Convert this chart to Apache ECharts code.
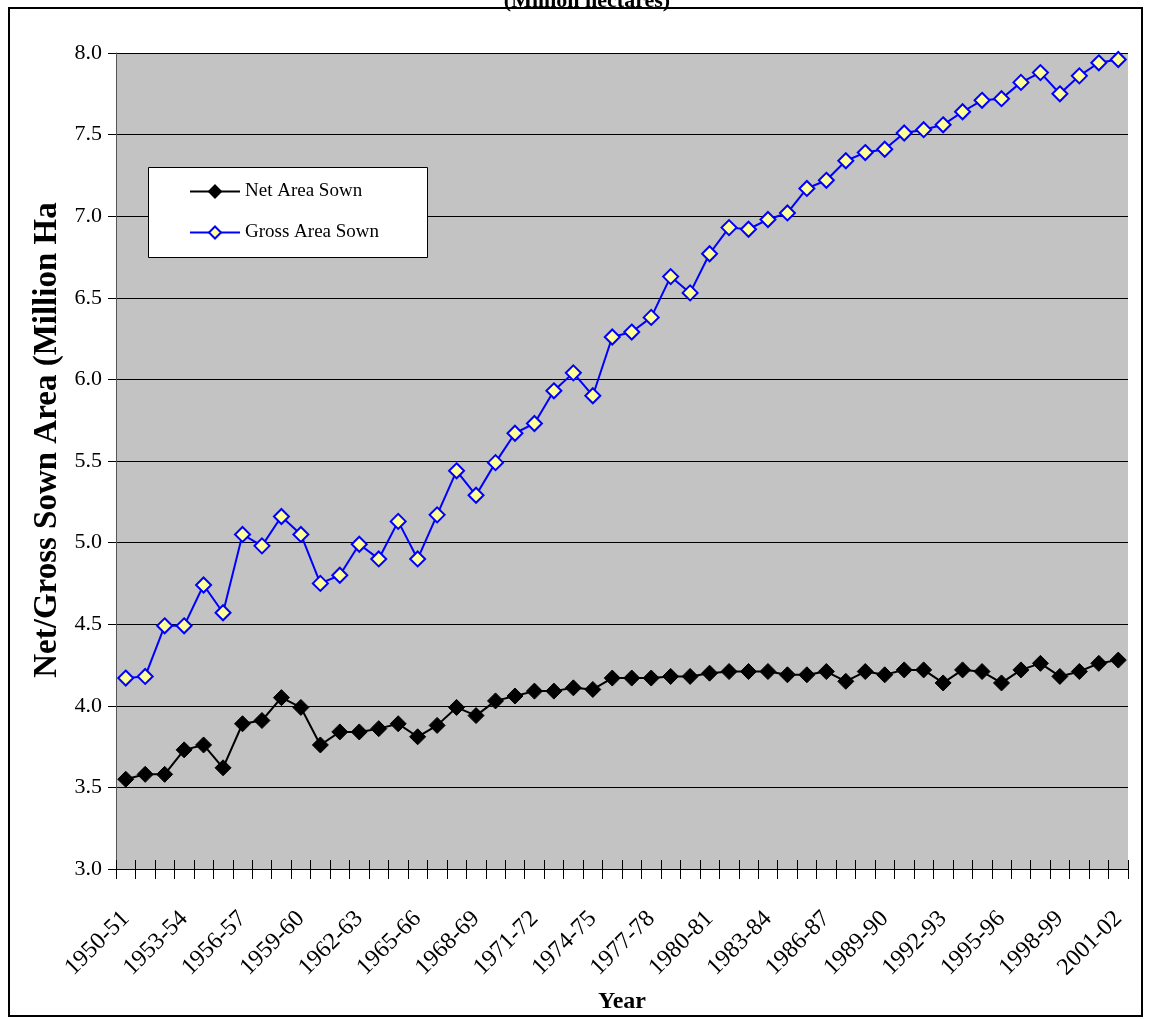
<!DOCTYPE html>
<html>
<head>
<meta charset="utf-8">
<title>Net / Gross Sown Area</title>
<script src="https://cdn.jsdelivr.net/npm/echarts@6/dist/echarts.min.js"></script>
<style>
  html, body { margin: 0; padding: 0; background: #fff; }
  #chart { width: 1150px; height: 1019px; }
</style>
</head>
<body>
<div id="chart"></div>
<script>
// years 1950-51 .. 2001-02
var years = [
  '1950-51','1951-52','1952-53','1953-54','1954-55','1955-56','1956-57','1957-58','1958-59','1959-60',
  '1960-61','1961-62','1962-63','1963-64','1964-65','1965-66','1966-67','1967-68','1968-69','1969-70',
  '1970-71','1971-72','1972-73','1973-74','1974-75','1975-76','1976-77','1977-78','1978-79','1979-80',
  '1980-81','1981-82','1982-83','1983-84','1984-85','1985-86','1986-87','1987-88','1988-89','1989-90',
  '1990-91','1991-92','1992-93','1993-94','1994-95','1995-96','1996-97','1997-98','1998-99','1999-00',
  '2000-01','2001-02'
];
var netArea = [
  3.55, 3.58, 3.58, 3.73, 3.76, 3.62, 3.89, 3.91, 4.05, 3.99,
  3.76, 3.84, 3.84, 3.86, 3.89, 3.81, 3.88, 3.99, 3.94, 4.03,
  4.06, 4.09, 4.09, 4.11, 4.10, 4.17, 4.17, 4.17, 4.18, 4.18,
  4.20, 4.21, 4.21, 4.21, 4.19, 4.19, 4.21, 4.15, 4.21, 4.19,
  4.22, 4.22, 4.14, 4.22, 4.21, 4.14, 4.22, 4.26, 4.18, 4.21,
  4.26, 4.28
];
var grossArea = [
  4.17, 4.18, 4.49, 4.49, 4.74, 4.57, 5.05, 4.98, 5.16, 5.05,
  4.75, 4.80, 4.99, 4.90, 5.13, 4.90, 5.17, 5.44, 5.29, 5.49,
  5.67, 5.73, 5.93, 6.04, 5.90, 6.26, 6.29, 6.38, 6.63, 6.53,
  6.77, 6.93, 6.92, 6.98, 7.02, 7.17, 7.22, 7.34, 7.39, 7.41,
  7.51, 7.53, 7.56, 7.64, 7.71, 7.72, 7.82, 7.88, 7.75, 7.86,
  7.94, 7.96
];
var yTitle = 'Net/Gross Sown Area (Million Ha';

var serif = '"Liberation Serif", "Times New Roman", serif';
var myChart = echarts.init(document.getElementById('chart'));

var option = {
  backgroundColor: '#fff',
  animation: false,
  textStyle: { fontFamily: serif },
  title: {
    text: '(Million hectares)',
    left: 582,
    top: -15,
    textAlign: 'center',
    textStyle: { fontFamily: serif, fontWeight: 'bold', fontSize: 22, color: '#000' }
  },
  graphic: [
    { // outer frame
      type: 'rect', z: 10, silent: true,
      shape: { x: 9, y: 8, width: 1133, height: 1008 },
      style: { fill: 'none', stroke: '#000', lineWidth: 2 }
    },
    { // legend box
      type: 'rect', z: 3, silent: true,
      shape: { x: 148.5, y: 167.5, width: 279, height: 90 },
      style: { fill: '#fff', stroke: '#000', lineWidth: 1 }
    },
    { // y axis title
      type: 'text', z: 5, silent: true,
      x: 47, y: 440, rotation: Math.PI / 2,
      style: {
        text: yTitle,
        fontFamily: serif, fontWeight: 'bold', fontSize: 33, fill: '#000',
        align: 'center', verticalAlign: 'middle'
      }
    }
  ],
  legend: {
    orient: 'vertical',
    left: 189,
    top: 182,
    padding: 0,
    itemWidth: 50,
    itemHeight: 15,
    itemGap: 22,
    z: 5,
    textStyle: { fontFamily: serif, fontSize: 19, color: '#000' },
    data: ['Net Area Sown', 'Gross Area Sown']
  },
  grid: {
    left: 116,
    right: 22,
    top: 53,
    bottom: 137,
    show: true,
    backgroundColor: '#c3c3c3',
    borderWidth: 0
  },
  xAxis: [
    {
      type: 'category',
      data: years,
      boundaryGap: true,
      name: 'Year',
      nameLocation: 'middle',
      nameGap: 121,
      nameTextStyle: { fontFamily: serif, fontWeight: 'bold', fontSize: 24, color: '#000' },
      axisLine: { lineStyle: { color: '#000', width: 1 } },
      axisTick: { show: true, interval: 0, length: 10, lineStyle: { color: '#000' } },
      axisLabel: {
        interval: 2,
        rotate: 45,
        margin: 46,
        fontFamily: serif,
        fontSize: 24,
        color: '#000'
      },
      splitLine: { show: false }
    },
    {
      type: 'category',
      data: years,
      position: 'bottom',
      boundaryGap: true,
      axisLine: { show: false },
      axisTick: { show: true, inside: true, interval: 0, length: 9, lineStyle: { color: '#000' } },
      axisLabel: { show: false },
      splitLine: { show: false }
    }
  ],
  yAxis: {
    type: 'value',
    min: 3.0,
    max: 8.0,
    interval: 0.5,
    axisLine: { show: true, lineStyle: { color: '#555', width: 1 } },
    axisTick: { show: true, length: 8, lineStyle: { color: '#000' } },
    axisLabel: {
      margin: 14,
      fontFamily: serif,
      fontSize: 22,
      color: '#000',
      formatter: function (v) { return v.toFixed(1); }
    },
    splitLine: { show: true, lineStyle: { color: '#000', width: 1 } }
  },
  series: [
    {
      name: 'Net Area Sown',
      type: 'line',
      data: netArea,
      symbol: 'diamond',
      symbolSize: 16,
      showAllSymbol: true,
      lineStyle: { color: '#000', width: 2 },
      itemStyle: { color: '#000', borderColor: '#000', borderWidth: 1 }
    },
    {
      name: 'Gross Area Sown',
      type: 'line',
      data: grossArea,
      symbol: 'diamond',
      symbolSize: 15,
      showAllSymbol: true,
      lineStyle: { color: '#0000ff', width: 2 },
      itemStyle: { color: '#ffff99', borderColor: '#0000ff', borderWidth: 2 }
    }
  ]
};

myChart.setOption(option);
</script>
</body>
</html>
